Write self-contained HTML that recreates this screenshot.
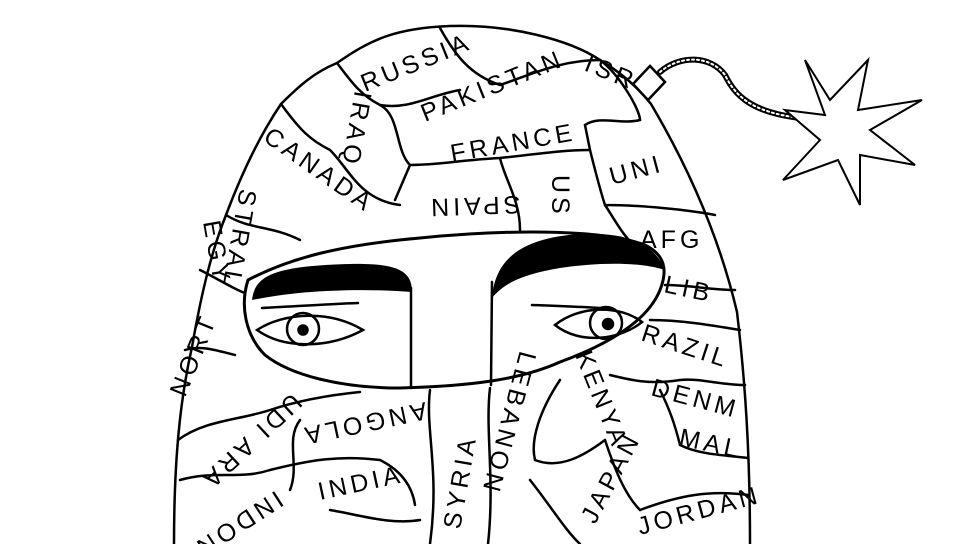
<!DOCTYPE html>
<html><head><meta charset="utf-8"><style>
html,body{margin:0;padding:0;background:#fff;}
svg{display:block}
text{font-family:"Liberation Sans",sans-serif;font-size:25px;fill:#000;letter-spacing:4px}
</style></head><body>
<svg width="968" height="544" viewBox="0 0 968 544" xmlns="http://www.w3.org/2000/svg">
<rect width="968" height="544" fill="#fff"/>
<g fill="none" stroke="#000" stroke-width="2.5" stroke-linecap="round">
<path d="M174,544 C174,460 180,400 192,347 C202,290 212,250 226,215 C243,170 260,135 281,104 C300,85 315,72 337,63 C370,40 395,28 450,26 C510,24 570,40 600,60 C625,75 640,90 651,104 C690,170 720,240 737,312 C745,380 750,450 750,544"/>
<path d="M337,63 C350,80 360,95 380,105 C400,115 395,150 410,165 L395,200"/>
<path d="M440,28 C455,55 470,75 500,85 C530,75 560,60 600,60"/>
<path d="M380,105 C410,110 430,95 460,90"/>
<path d="M410,165 C440,165 460,160 500,158 C530,155 560,150 590,150"/>
<path d="M281,104 C300,130 310,140 330,150 C350,170 360,200 400,205"/>
<path d="M226,215 C250,230 270,225 300,240"/>
<path d="M600,60 C620,75 640,110 640,120 C620,125 600,115 585,125"/>
<path d="M500,158 C505,180 520,200 520,230"/>
<path d="M585,125 L590,150 C595,170 600,190 605,205 C640,205 690,210 715,215"/>
<path d="M605,205 C615,220 625,240 640,250"/>
<path d="M665,285 C690,285 710,290 735,290"/>
<path d="M650,320 C680,320 710,325 740,330"/>
<path d="M610,375 C630,380 650,385 680,380 C700,378 720,385 745,385"/>
<path d="M660,390 C670,410 675,425 680,445 C700,455 725,455 748,458"/>
<path d="M178,440 C205,420 240,420 270,410 C300,400 330,395 360,392"/>
<path d="M180,480 C215,470 240,480 270,470"/>
<path d="M270,470 C310,460 340,455 380,460 C400,470 412,485 415,505"/>
<path d="M430,390 C425,430 440,470 430,544"/>
<path d="M490,388 C485,430 495,480 488,544"/>
<path d="M560,380 C540,410 530,440 535,460 C560,470 585,455 605,440"/>
<path d="M605,440 C615,470 625,495 640,510"/>
<path d="M300,420 C285,440 300,465 290,490"/>
<path d="M330,510 C360,515 390,525 420,520"/>
<path d="M200,270 C220,280 235,290 250,295"/>
<path d="M530,480 C550,505 565,530 580,544"/>
<path d="M640,510 C680,495 710,490 748,495"/>
<path d="M185,350 C200,345 215,350 235,355"/>
<path d="M248,280 C290,258 340,245 420,238 C500,230 600,228 645,245 C665,255 668,270 660,290 C650,315 620,340 560,362 C520,380 470,386 400,388 C340,388 290,375 265,355 C245,335 240,305 248,280Z" fill="#fff" stroke-width="3"/>
<path d="M411,288 L411,388"/>
<path d="M492,282 L491,385"/>
<path d="M257,330 C285,312 330,310 363,330 C330,348 285,350 257,330Z"/>
<circle cx="303" cy="329" r="16"/>
<circle cx="303" cy="330" r="4.5" fill="#000"/>
<path d="M262,308 C300,306 330,304 358,303"/>
<path d="M555,325 C580,305 620,305 642,322 C620,340 580,345 555,325Z"/>
<circle cx="606" cy="323" r="16"/>
<circle cx="608" cy="324" r="5" fill="#000"/>
<path d="M532,305 C560,306 590,307 612,309"/>
<path d="M633,84 L650,66 L665,82 L648,100 Z" fill="#fff"/>
<path d="M660,72 C680,55 710,55 725,75 C735,95 750,112 800,118" stroke-width="6"/>
<path d="M660,72 C680,55 710,55 725,75 C735,95 750,112 800,118" stroke="#fff" stroke-width="2" stroke-dasharray="2 3"/>
<path d="M805,60 L830,100 L868,60 L858,110 L922,100 L870,130 L915,165 L860,155 L860,205 L838,160 L783,180 L820,140 L785,110 L825,115 Z" fill="#fff" stroke-width="2"/>
</g>
<path d="M252,300 C255,275 275,266 350,264 C400,263 412,272 412,292 C360,288 300,290 252,300Z" fill="#000"/>
<path d="M492,298 C495,260 520,238 580,234 C630,232 655,245 665,270 C640,262 600,262 560,268 C525,274 505,282 492,298Z" fill="#000"/>
<text transform="translate(365,92) rotate(-22)" font-size="28">RUSSIA</text>
<text transform="translate(425,122) rotate(-22)" font-size="24">PAKISTAN</text>
<text transform="translate(583,70) rotate(22)" font-size="26">ISR</text>
<text transform="translate(355,90) rotate(100)" font-size="26">IRAQ</text>
<text transform="translate(452,162) rotate(-10)" font-size="28">FRANCE</text>
<text transform="translate(262,140) rotate(35)" font-size="24">CANADA</text>
<text transform="translate(520,196) rotate(178)" font-size="28">SPAIN</text>
<text transform="translate(552,175) rotate(90)" font-size="30">US</text>
<text transform="translate(612,185) rotate(-15)" font-size="26">UNI</text>
<text transform="translate(640,248)" font-size="26">AFG</text>
<text transform="translate(663,292) rotate(12)" font-size="26">LIB</text>
<text transform="translate(640,340) rotate(18)" font-size="26">RAZIL</text>
<text transform="translate(650,395) rotate(15)" font-size="26">DENM</text>
<text transform="translate(678,445) rotate(12)" font-size="26">MAL</text>
<text transform="translate(640,535) rotate(-15)" font-size="26">JORDAN</text>
<text transform="translate(595,525) rotate(-62)" font-size="24">JAPAN</text>
<text transform="translate(575,355) rotate(68)" font-size="24">KENYA</text>
<text transform="translate(520,350) rotate(105)" font-size="22">LEBANON</text>
<text transform="translate(460,530) rotate(-80)" font-size="24">SYRIA</text>
<text transform="translate(320,500) rotate(-12)" font-size="26">INDIA</text>
<text transform="translate(425,402) rotate(168)" font-size="26">ANGOLA</text>
<text transform="translate(185,398) rotate(-68)" font-size="26">NORT</text>
<text transform="translate(292,392) rotate(137)" font-size="24">UDI ARA</text>
<text transform="translate(203,222) rotate(80)" font-size="24">EGY</text>
<text transform="translate(240,188) rotate(100)" font-size="24">STRAL</text>
<text transform="translate(276,490) rotate(147)" font-size="24">INDON</text>
</svg>
</body></html>
